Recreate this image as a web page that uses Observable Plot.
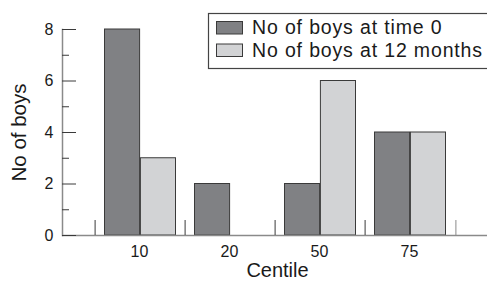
<!DOCTYPE html>
<html><head><meta charset="utf-8">
<script src="https://cdn.jsdelivr.net/npm/d3@7"></script>
<script src="https://cdn.jsdelivr.net/npm/@observablehq/plot@0.6"></script>
<style>html,body{margin:0;padding:0;background:#fff}#chart svg{display:block}</style>
</head><body><div id="chart"></div>
<script>
// ---- data ----
const centiles = ["10", "20", "50", "75"];
const boysTime0 = [8, 2, 2, 4];
const boys12Months = [3, 0, 6, 4];
const seriesNames = ["No of boys at time 0", "No of boys at 12 months"];
const yTicksMajor = [0, 2, 4, 6, 8];
const yTicksMinor = [1, 3, 5, 7];
const xTitle = "Centile";
const yTitle = "No of boys";

const rowsTime0 = centiles.map((c, i) => ({centile: c, value: boysTime0[i]}));
const rows12 = centiles.map((c, i) => ({centile: c, value: boys12Months[i]}));

// ---- styles ----
const font = "'Liberation Sans', Arial, Helvetica, sans-serif";
const dark = "#808184", light = "#d2d3d5", edge = "#3a3a3a", axisGray = "#8a8a8a", ink = "#1a1a1a";
const halfStep = 45.4;

const chart = Plot.plot({
  width: 487,
  height: 282,
  marginTop: 29,
  marginBottom: 47,
  marginLeft: 62,
  marginRight: 0,
  style: {fontFamily: font, background: "#fff", color: ink},
  x: {domain: centiles, paddingInner: 0, paddingOuter: 0.3416, label: null},
  y: {domain: [0, 8], label: null},
  marks: [
    Plot.barY(rowsTime0, {x: "centile", y: "value", fill: dark, stroke: edge, strokeWidth: 1,
      insetLeft: 9.5, insetRight: halfStep, filter: d => d.value > 0}),
    Plot.barY(rows12, {x: "centile", y: "value", fill: light, stroke: edge, strokeWidth: 1,
      insetLeft: halfStep, insetRight: 9.5, filter: d => d.value > 0}),
    Plot.ruleY([0], {stroke: axisGray, strokeWidth: 1.5}),
    Plot.frame({anchor: "left", stroke: axisGray, strokeWidth: 1.5}),
    // category dividers
    Plot.axisX(centiles, {tickSize: -15, dx: -halfStep, tickFormat: () => "", stroke: edge, label: null}),
    Plot.axisX([centiles[centiles.length - 1]], {tickSize: -15, dx: halfStep, tickFormat: () => "", stroke: axisGray, label: null}),
    // y ticks (inward)
    Plot.axisY(yTicksMajor, {tickSize: -14, tickFormat: () => "", stroke: edge, label: null}),
    Plot.axisY(yTicksMinor, {tickSize: -7, tickFormat: () => "", stroke: edge, label: null}),
    // tick labels
    Plot.text(centiles, {x: d => d, text: d => d, frameAnchor: "bottom", dy: 10, dx: -1, lineAnchor: "top", fontSize: 16, fill: ink}),
    Plot.text(yTicksMajor, {y: d => d, text: d => String(d), frameAnchor: "left", dx: -9, textAnchor: "end", lineAnchor: "middle", fontSize: 16, fill: ink}),
    // titles
    Plot.text([xTitle], {text: d => d, frameAnchor: "bottom", dy: 35, dx: 2.5, fontSize: 20, fill: ink, textAnchor: "middle", lineAnchor: "middle"}),
    Plot.text([yTitle], {text: d => d, frameAnchor: "left", rotate: -90, dx: -43, fontSize: 20.5, fill: ink, textAnchor: "middle", lineAnchor: "middle"})
  ]
});
document.getElementById("chart").appendChild(chart);

// ---- legend (inside plot, top right) ----
const svg = d3.select(chart);
const lg = svg.append("g").attr("font-family", font).attr("text-anchor", "start");
lg.append("rect").attr("x", 208.5).attr("y", 13.5).attr("width", 300).attr("height", 55)
  .attr("fill", "#fff").attr("stroke", "#444").attr("stroke-width", 1.2);
const swatch = [dark, light];
seriesNames.forEach((name, i) => {
  lg.append("rect").attr("x", 216.5).attr("y", 21.5 + i * 22.5).attr("width", 26).attr("height", 12.5)
    .attr("fill", swatch[i]).attr("stroke", edge).attr("stroke-width", 1);
  lg.append("text").attr("x", 252).attr("y", 34.3 + i * 22.2).attr("font-size", 19.5)
    .attr("text-anchor", "start").attr("letter-spacing", 0.85).attr("fill", ink).text(name);
});
</script>
</body></html>
